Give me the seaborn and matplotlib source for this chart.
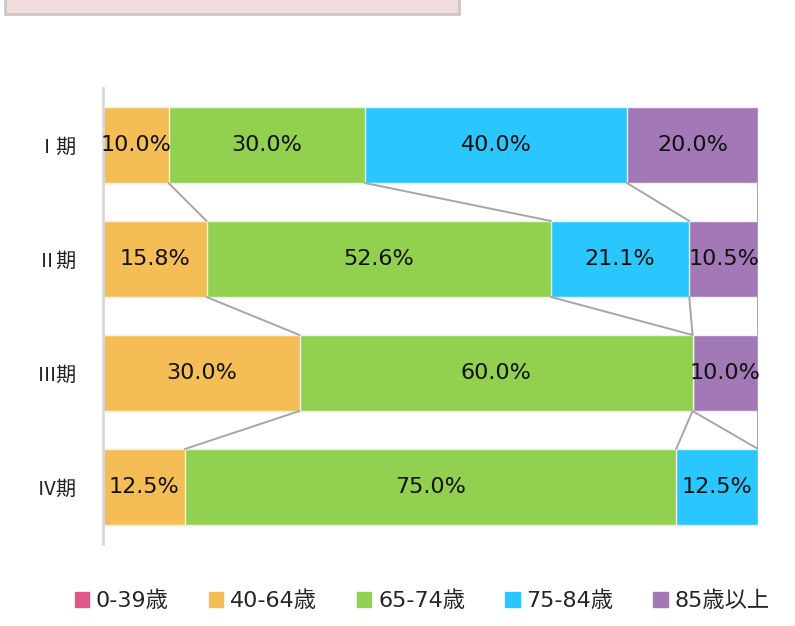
import matplotlib
matplotlib.use("Agg")
import matplotlib.pyplot as plt
from matplotlib.patches import Rectangle
import seaborn as sns
import pandas as pd
import numpy as np

# データ
periods = ["Ⅰ期", "Ⅱ期", "Ⅲ期", "Ⅳ期"]
age_groups = ["0-39歳", "40-64歳", "65-74歳", "75-84歳", "85歳以上"]
share_0_39 = [0.0, 0.0, 0.0, 0.0]
share_40_64 = [10.0, 15.8, 30.0, 12.5]
share_65_74 = [30.0, 52.6, 60.0, 75.0]
share_75_84 = [40.0, 21.1, 0.0, 12.5]
share_85 = [20.0, 10.5, 10.0, 0.0]
colors = ["#e2578a", "#f4bd55", "#92d050", "#29c7fe", "#a278b6"]

sns.set_theme(style="white")
plt.rcParams["font.family"] = ["DejaVu Sans", "Noto Sans CJK JP"]

df = pd.DataFrame({"period": periods, "0-39歳": share_0_39, "40-64歳": share_40_64,
                   "65-74歳": share_65_74, "75-84歳": share_75_84, "85歳以上": share_85})
values = df[age_groups].to_numpy()
cum = values.cumsum(axis=1)

fig = plt.figure(figsize=(7.95, 6.26), dpi=100)
ax = fig.add_axes([0.1296, 0.131, 0.8239, 0.7284])

bar_w = 0.667
# 積み上げ: 累積値の大きい方から描く
for j in range(len(age_groups) - 1, -1, -1):
    sns.barplot(x=cum[:, j], y=df["period"], color=colors[j], width=bar_w,
                edgecolor="#f2f2f2", linewidth=1, orient="h", ax=ax, saturation=1)

# 区分線
for j in range(len(age_groups)):
    for i in range(len(periods) - 1):
        ax.plot([cum[i, j], cum[i + 1, j]], [i + bar_w / 2, i + 1 - bar_w / 2],
                color="#a6a6a6", lw=1.4, zorder=1)

# ラベル
for i in range(len(periods)):
    for j in range(len(age_groups)):
        v = values[i, j]
        if v > 0:
            ax.text(cum[i, j] - v / 2, i, f"{v:.1f}%", ha="center", va="center",
                    fontsize=16, color="#111111")

ax.set_xlim(0, 100)
ax.set_ylim(3.5, -0.5)
ax.set_xlabel("")
ax.set_ylabel("")
ax.set_xticks([])
ax.tick_params(axis="y", length=0, pad=19)
for lab in ax.get_yticklabels():
    lab.set_fontfamily(["Noto Sans CJK JP"])
    lab.set_fontsize(14.5)
    lab.set_color("#222222")
for s in ["top", "right", "bottom"]:
    ax.spines[s].set_visible(False)
ax.spines["left"].set_color("#d9d9d9")
ax.spines["left"].set_linewidth(2)

# 凡例
handles = [Rectangle((0, 0), 1, 1, color=c) for c in colors]
leg = fig.legend(handles, age_groups, loc="center", bbox_to_anchor=(0.531, 0.04), ncol=5,
                 frameon=False, handlelength=0.65, handleheight=0.65, handletextpad=0.3,
                 columnspacing=1.8, prop={"family": ["DejaVu Sans", "Noto Sans CJK JP"], "size": 16})

# 上部のタイトル枠（一部）
fig.patches.append(Rectangle((0.006, 0.977), 0.571, 0.05, transform=fig.transFigure,
                             facecolor="#f2dcdb", edgecolor="#c8c8c8", linewidth=2))

fig.savefig("out.png", dpi=100)
